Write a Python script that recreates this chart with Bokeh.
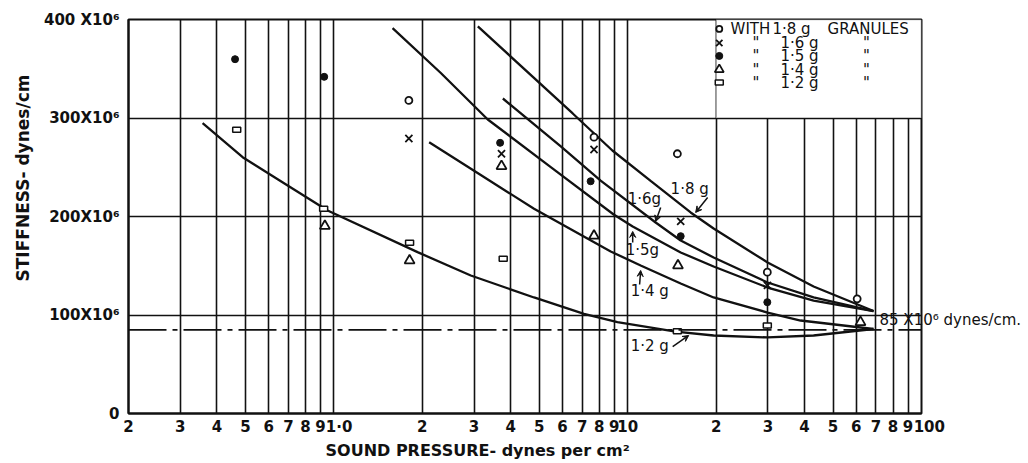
from bokeh.plotting import figure
from bokeh.models import (FixedTicker, Label, Span, BoxAnnotation, Arrow, VeeHead,
                          LinearAxis, Range1d)
from bokeh.embed import file_html
from bokeh.resources import INLINE

# ---------------- axis ticks ----------------
x_ticks = [0.2, 0.3, 0.4, 0.5, 0.6, 0.7, 0.8, 0.9, 1, 2, 3, 4, 5, 6, 7, 8, 9,
           10, 20, 30, 40, 50, 60, 70, 80, 90, 100]
x_tick_labels = ["2", "3", "4", "5", "6", "7", "8", "9", "\u00a0\u00a01\u00b70",
                 "2", "3", "4", "5", "6", "7", "8", "9", "10",
                 "2", "3", "4", "5", "6", "7", "8", "9", "\u00a0\u00a0\u00a0100"]
y_ticks = [0, 100, 200, 300, 400]
y_tick_labels = ["0", "100X10\u2076", "200X10\u2076", "300X10\u2076", "400 X10\u2076"]

# ---------------- fitted curves (stiffness, 10^6 dynes/cm) ----------------
curve_18_x = [3.09, 6.50, 8.87, 11.97, 16.38, 19.61, 29.94, 42.93, 68.66]
curve_18_y = [393.0, 304.6, 267.0, 236.2, 204.1, 187.8, 153.3, 128.9, 104.0]
curve_16_x = [3.76, 5.92, 8.09, 12.45, 15.15, 19.61, 29.94, 42.93, 68.66]
curve_16_y = [319.8, 271.1, 236.5, 193.9, 175.6, 158.4, 133.0, 117.8, 104.0]
curve_15_x = [1.584, 2.312, 3.341, 5.473, 8.96, 10.40, 15.15, 19.61, 29.94, 42.93, 68.66]
curve_15_y = [391.2, 345.7, 298.5, 250.1, 202.0, 189.8, 163.5, 149.2, 127.9, 114.7, 104.0]
curve_14_x = [2.110, 3.162, 4.800, 8.754, 11.07, 15.15, 19.61, 29.94, 38.77, 68.66]
curve_14_y = [275.4, 242.2, 207.8, 164.5, 150.3, 132.0, 117.8, 102.5, 94.4, 85.8]
curve_12_x = [0.3575, 0.4892, 0.6961, 0.9519, 1.927, 2.924, 4.800, 7.101, 9.226,
              14.57, 19.61, 29.94, 42.93, 68.66]
curve_12_y = [294.7, 260.2, 231.5, 206.1, 163.8, 140.1, 117.8, 101.2, 92.7,
              83.2, 79.2, 77.2, 79.2, 85.8]

# ---------------- measured points ----------------
circ_18_x = [1.80, 7.68, 14.76, 29.87, 60.4]
circ_18_y = [317.8, 280.5, 263.7, 143.5, 116.4]
x_16_x = [1.80, 3.72, 7.68, 15.15, 29.9]
x_16_y = [279.2, 263.7, 268.0, 195.1, 130.0]
dot_15_x = [0.461, 0.927, 3.68, 7.48, 15.15, 29.87]
dot_15_y = [359.7, 341.8, 274.8, 235.8, 180.0, 113.0]
tri_14_x = [0.932, 1.81, 3.72, 7.68, 14.83, 62.0]
tri_14_y = [190.4, 155.3, 251.1, 180.4, 150.3, 92.7]
sq_12_x = [0.467, 0.923, 1.81, 3.77, 14.76, 29.87]
sq_12_y = [288.0, 207.8, 173.3, 157.1, 83.6, 89.3]

limit_value = 85
limit_text = "85 X10\u2076 dynes/cm."

legend_first = ["WITH", "1\u00b78 g", "GRANULES"]
legend_weights = ["1\u00b76 g", "1\u00b75 g", "1\u00b74 g", "1\u00b72 g"]
curve_labels = ["1\u00b78 g", "1\u00b76g", "1\u00b75g", "1\u00b74 g", "1\u00b72 g"]

FONT = "DejaVu Sans"
INK = "#111111"
NB = "\u00a0"

p = figure(width=1028, height=463, x_axis_type="log", x_range=(0.2, 100),
           y_range=(0, 400), output_backend="svg", toolbar_location=None,
           min_border_left=128, min_border_right=107, min_border_top=19,
           min_border_bottom=50)
p.background_fill_color = "white"
p.border_fill_color = "white"
p.outline_line_color = INK
p.outline_line_width = 2

# axes
for ax in (p.xaxis[0], p.yaxis[0]):
    ax.axis_line_color = INK
    ax.axis_line_width = 2
    ax.major_tick_line_color = None
    ax.minor_tick_line_color = None
    ax.major_tick_out = 0
    ax.major_tick_in = 0
    ax.minor_tick_out = 0
    ax.major_label_text_font = FONT
    ax.major_label_text_font_style = "bold"
    ax.major_label_text_color = INK
    ax.major_label_text_font_size = "15px"
    ax.axis_label_text_font = FONT
    ax.axis_label_text_font_style = "bold"
    ax.axis_label_text_color = INK

p.xaxis.ticker = FixedTicker(ticks=x_ticks)
p.xaxis.major_label_overrides = {t: l for t, l in zip(x_ticks, x_tick_labels)}
p.xaxis.major_label_standoff = 4
p.xaxis.axis_label = "SOUND PRESSURE- dynes per cm\u00b2" + NB * 17
p.xaxis.axis_label_text_font_size = "16px"
p.xaxis.axis_label_standoff = 2

p.yaxis.ticker = FixedTicker(ticks=y_ticks)
p.yaxis.major_label_overrides = {t: l for t, l in zip(y_ticks, y_tick_labels)}
p.yaxis.major_label_standoff = 9
p.yaxis.axis_label = NB * 13 + "STIFFNESS- dynes/cm"
p.yaxis.axis_label_text_font_size = "17px"
p.yaxis.axis_label_standoff = 8

p.xgrid.ticker = FixedTicker(ticks=x_ticks)
p.xgrid.grid_line_color = INK
p.xgrid.grid_line_width = 1.6
p.xgrid.grid_line_alpha = 1
p.ygrid.ticker = FixedTicker(ticks=y_ticks)
p.ygrid.grid_line_color = INK
p.ygrid.grid_line_width = 1.4
p.ygrid.grid_line_alpha = 1

# legend box (drawn under the data layer, above the grid)
p.add_layout(BoxAnnotation(left=20, right=100, bottom=300, top=400,
                           fill_color="white", fill_alpha=1, line_color=INK,
                           line_width=1.6, level="underlay"))

# 85 x 10^6 limit line and its label (label drawn by a right-hand axis whose
# range is nudged so the lettering sits just above the line)
p.add_layout(Span(location=limit_value, dimension="width", line_color=INK,
                  line_width=1.8, line_dash="38 6 5 6"))
p.extra_y_ranges = {"limit_label": Range1d(-10, 390)}
rax = LinearAxis(y_range_name="limit_label",
                 ticker=FixedTicker(ticks=[limit_value]),
                 major_label_overrides={limit_value: limit_text},
                 axis_line_color=None, major_tick_line_color=None,
                 minor_tick_line_color=None, major_tick_out=0, major_tick_in=0,
                 minor_tick_out=0, major_label_standoff=-42,
                 major_label_text_font=FONT, major_label_text_font_size="15px",
                 major_label_text_color=INK, major_label_text_baseline="bottom",
                 major_label_text_align="left")
p.add_layout(rax, "right")

# curves
for cx, cy in [(curve_18_x, curve_18_y), (curve_16_x, curve_16_y),
               (curve_15_x, curve_15_y), (curve_14_x, curve_14_y),
               (curve_12_x, curve_12_y)]:
    p.line(cx, cy, line_color=INK, line_width=2.3)

# points
p.scatter(circ_18_x, circ_18_y, marker="circle", size=7, line_color=INK,
          line_width=1.8, fill_color="white")
p.scatter(x_16_x, x_16_y, marker="x", size=10, line_color=INK, line_width=1.8)
p.scatter(dot_15_x, dot_15_y, marker="circle", size=7, line_color=INK,
          fill_color=INK)
p.scatter(tri_14_x, tri_14_y, marker="triangle", size=10, line_color=INK,
          line_width=1.8, fill_color="white")
p.rect(sq_12_x, sq_12_y, width=8, height=5, width_units="screen",
       height_units="screen", line_color=INK, line_width=1.5, fill_color="white")

# curve labels and leaders
lab_x = [14.0, 10.0, 9.84, 10.24, 10.24]
lab_y = [227.9, 217.8, 165.5, 123.9, 69.0]
for t, lx, ly in zip(curve_labels, lab_x, lab_y):
    p.add_layout(Label(x=lx, y=ly, text=t, text_font=FONT, text_font_size="15px",
                       text_color=INK, text_align="left", text_baseline="middle"))
arrows = [((18.71, 219.3), (17.03, 204.1)),
          ((12.95, 209.1), (12.45, 194.9)),
          ((10.40, 173.6), (10.40, 184.8)),
          ((10.98, 131.0), (11.07, 145.2)),
          ((14.23, 68.0), (16.13, 79.2))]
for (sx, sy), (ex, ey) in arrows:
    p.add_layout(Arrow(x_start=sx, y_start=sy, x_end=ex, y_end=ey,
                       line_color=INK, line_width=1.5,
                       end=VeeHead(size=6, line_color=INK, fill_color=INK)))

# legend keys and texts
row_y = [390.4, 376.1, 363.0, 349.2, 336.0]
key_x = 20.5
p.scatter([key_x], [row_y[0]], marker="circle", size=6, line_color=INK,
          line_width=1.8, fill_color="white")
p.scatter([key_x], [row_y[1]], marker="x", size=9, line_color=INK, line_width=1.8)
p.scatter([key_x], [row_y[2]], marker="circle", size=7, line_color=INK, fill_color=INK)
p.scatter([key_x], [row_y[3]], marker="triangle", size=9, line_color=INK,
          line_width=1.8, fill_color="white")
p.rect([key_x], [row_y[4]], width=8, height=5, width_units="screen",
       height_units="screen", line_color=INK, line_width=1.5, fill_color="white")

leg_font = dict(text_font=FONT, text_font_size="15px", text_color=INK,
                text_baseline="middle")
for t, lx in zip(legend_first, [22.4, 31.1, 47.9]):
    p.add_layout(Label(x=lx, y=row_y[0], text=t, text_align="left", **leg_font))
for t, ry in zip(legend_weights, row_y[1:]):
    p.add_layout(Label(x=27.3, y=ry, text='"', text_align="center", **leg_font))
    p.add_layout(Label(x=33.1, y=ry, text=t, text_align="left", **leg_font))
    p.add_layout(Label(x=65.0, y=ry, text='"', text_align="center", **leg_font))

open("out.html", "w").write(file_html(p, INLINE))
